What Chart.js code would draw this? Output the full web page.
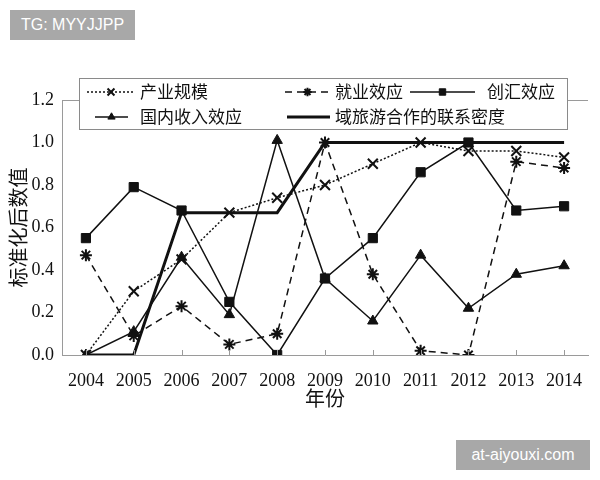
<!DOCTYPE html>
<html>
<head>
<meta charset="utf-8">
<script src="https://cdn.jsdelivr.net/npm/chart.js@4"></script>
<style>
    html, body { margin: 0; padding: 0; background: #fff; }
    #wrap { position: relative; width: 600px; height: 480px; }
    .wm {
        position: absolute; background: #a8a8a8; color: #fff;
        font: 16px "Liberation Sans", Arial, sans-serif;
        display: flex; align-items: center; justify-content: center;
    }
</style>
</head>
<body>
<div id="wrap">
    <canvas id="chart" width="600" height="480"></canvas>
    <div class="wm" style="left:10px;top:10px;width:125px;height:30px;">TG: MYYJJPP</div>
    <div class="wm" style="left:456px;top:440px;width:134px;height:30px;">at-aiyouxi.com</div>
</div>
<script>
// dados
const anos = ['2004', '2005', '2006', '2007', '2008', '2009', '2010', '2011', '2012', '2013', '2014'];
const yTicks = [0, 0.2, 0.4, 0.6, 0.8, 1.0, 1.2];

const industryScale = [0.00, 0.30, 0.45, 0.67, 0.74, 0.80, 0.90, 1.00, 0.96, 0.96, 0.93];
const employment = [0.47, 0.09, 0.23, 0.05, 0.10, 1.00, 0.38, 0.02, 0.00, 0.91, 0.88];
const forexEarning = [0.55, 0.79, 0.68, 0.25, 0.00, 0.36, 0.55, 0.86, 1.00, 0.68, 0.70];
const domesticIncome = [0.00, 0.11, 0.46, 0.19, 1.01, 0.36, 0.16, 0.47, 0.22, 0.38, 0.42];
const cooperationDensity = [0.00, 0.00, 0.67, 0.67, 0.67, 1.00, 1.00, 1.00, 1.00, 1.00, 1.00];

const INK = '#111';
const AXIS = '#9a9a9a';
const CJK = '"Noto Sans CJK SC", "Noto Sans", sans-serif';
const SERIF = '"Liberation Serif", "Times New Roman", serif';

// legenda desenhada à mão (caixa sobreposta ao topo do gráfico)
const legendItems = [
    { ds: 0, x1: 87, x2: 135, tx: 140, y: 92 },
    { ds: 1, x1: 285, x2: 330, tx: 335, y: 92 },
    { ds: 2, x1: 410, x2: 475, tx: 487, y: 92 },
    { ds: 3, x1: 95, x2: 128, tx: 140, y: 117 },
    { ds: 4, x1: 287, x2: 330, tx: 335, y: 117 }
];

const legendaPlugin = {
    id: 'legendaPlugin',
    afterDraw(chart) {
        const ctx = chart.ctx;
        const xs = chart.scales.x;
        const bottom = chart.chartArea.bottom;

        // ticks internos do eixo x
        ctx.save();
        ctx.strokeStyle = AXIS;
        ctx.lineWidth = 1;
        xs.ticks.forEach((t, i) => {
            const px = Math.round(xs.getPixelForTick(i)) + 0.5;
            ctx.beginPath();
            ctx.moveTo(px, bottom);
            ctx.lineTo(px, bottom - 5);
            ctx.stroke();
        });

        // caixa
        ctx.fillStyle = '#fff';
        ctx.fillRect(79, 78, 488, 51);
        ctx.strokeStyle = '#8a8a8a';
        ctx.strokeRect(79.5, 78.5, 488, 51);

        legendItems.forEach(item => {
            const ds = chart.data.datasets[item.ds];
            ctx.strokeStyle = INK;
            ctx.fillStyle = INK;
            ctx.lineWidth = ds.borderWidth;
            ctx.setLineDash(ds.borderDash || []);
            ctx.beginPath();
            ctx.moveTo(item.x1, item.y);
            ctx.lineTo(item.x2, item.y);
            ctx.stroke();
            ctx.setLineDash([]);
            if (ds.pointRadius > 0) {
                ctx.lineWidth = ds.pointBorderWidth || 1;
                Chart.helpers.drawPoint(ctx, {
                    pointStyle: ds.pointStyle,
                    radius: ds.pointRadius * 0.7,
                    borderWidth: ds.pointBorderWidth || 1,
                    rotation: 0
                }, (item.x1 + item.x2) / 2, item.y);
            }
            ctx.fillStyle = INK;
            ctx.font = '17px ' + CJK;
            ctx.textBaseline = 'middle';
            ctx.textAlign = 'left';
            ctx.fillText(ds.label, item.tx, item.y);
        });
        ctx.restore();
    }
};

document.addEventListener('DOMContentLoaded', function() {
    const el = document.getElementById('chart');

    new Chart(el.getContext('2d'), {
        type: 'line',
        data: {
            labels: anos,
            datasets: [
                {
                    label: '产业规模',
                    data: industryScale,
                    borderColor: INK,
                    borderWidth: 1.5,
                    borderDash: [2, 2],
                    pointStyle: 'crossRot',
                    pointRadius: 7,
                    pointBorderWidth: 2,
                    pointBorderColor: INK,
                    pointBackgroundColor: INK
                },
                {
                    label: '就业效应',
                    data: employment,
                    borderColor: INK,
                    borderWidth: 1.5,
                    borderDash: [7, 5],
                    pointStyle: 'star',
                    pointRadius: 6,
                    pointBorderWidth: 2,
                    pointBorderColor: INK,
                    pointBackgroundColor: INK
                },
                {
                    label: '创汇效应',
                    data: forexEarning,
                    borderColor: INK,
                    borderWidth: 1.5,
                    pointStyle: 'rect',
                    pointRadius: 6.5,
                    pointBorderWidth: 1,
                    pointBorderColor: INK,
                    pointBackgroundColor: INK
                },
                {
                    label: '国内收入效应',
                    data: domesticIncome,
                    borderColor: INK,
                    borderWidth: 1.5,
                    pointStyle: 'triangle',
                    pointRadius: 6,
                    pointBorderWidth: 1,
                    pointBorderColor: INK,
                    pointBackgroundColor: INK
                },
                {
                    label: '域旅游合作的联系密度',
                    data: cooperationDensity,
                    borderColor: INK,
                    borderWidth: 3,
                    pointRadius: 0
                }
            ]
        },
        options: {
            responsive: false,
            animation: false,
            layout: {
                padding: { left: 0, right: 12, top: 100, bottom: 70 }
            },
            scales: {
                x: {
                    offset: true,
                    afterFit: function(scale) { scale.height = 55; },
                    grid: { display: false },
                    border: { display: true, color: AXIS, width: 1 },
                    ticks: {
                        color: INK,
                        padding: 7,
                        maxRotation: 0,
                        autoSkip: false,
                        font: { family: SERIF, size: 18 }
                    },
                    title: {
                        display: true,
                        text: '年份',
                        color: INK,
                        padding: 0,
                        font: { family: CJK, size: 20 }
                    }
                },
                y: {
                    min: 0,
                    max: 1.2,
                    afterFit: function(scale) { scale.width = 62; },
                    afterBuildTicks: function(scale) {
                        scale.ticks = yTicks.map(v => ({ value: v }));
                    },
                    grid: {
                        drawTicks: false,
                        color: function(c) {
                            return Math.abs(c.tick.value - 1.2) < 1e-6 ? AXIS : 'rgba(0,0,0,0)';
                        }
                    },
                    border: { display: true, color: AXIS, width: 1 },
                    ticks: {
                        color: INK,
                        padding: 8,
                        font: { family: SERIF, size: 18 },
                        callback: function(value) {
                            return Number(value).toFixed(1);
                        }
                    },
                    title: {
                        display: true,
                        text: '标准化后数值',
                        color: INK,
                        padding: { top: 6, bottom: 0 },
                        font: { family: CJK, size: 20 }
                    }
                }
            },
            plugins: {
                legend: { display: false },
                tooltip: { enabled: false }
            }
        },
        plugins: [legendaPlugin]
    });
});
</script>
</body>
</html>
